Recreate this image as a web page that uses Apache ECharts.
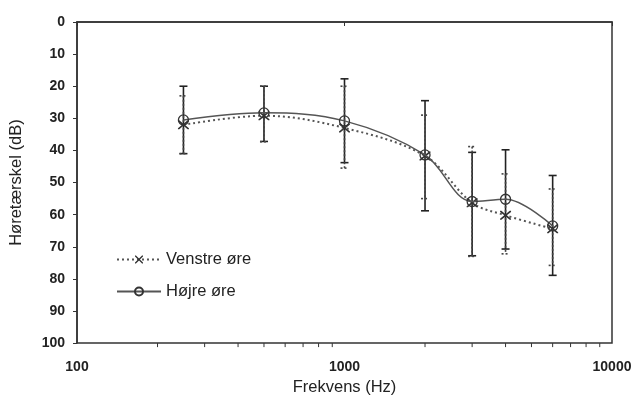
<!DOCTYPE html>
<html>
<head>
<meta charset="UTF-8">
<title>Høretærskel</title>
<script src="https://cdn.jsdelivr.net/npm/echarts@6/dist/echarts.min.js"></script>
<style>
  html, body { margin: 0; padding: 0; background: #fff; }
  #main { width: 637px; height: 401px; }
</style>
</head>
<body>
<div id="main"></div>
<script type="text/javascript">
// frekvenser (Hz)
var freqs = [250, 500, 1000, 2000, 3000, 4000, 6000];
// venstre øre: middel og spredning
var venstre = [32, 29.2, 33, 41.7, 56.3, 60.2, 64.4];
var venstreLow = [23, 20, 20, 29, 38.8, 47.3, 52];
var venstreHigh = [41, 37.3, 45.5, 55, 73, 72.2, 75.8];
// højre øre: middel og spredning
var hojre = [30.5, 28.3, 30.8, 41.4, 55.9, 55.2, 63.5];
var hojreLow = [20, 20, 17.7, 24.5, 40.6, 39.8, 47.8];
var hojreHigh = [41, 37.2, 43.8, 58.8, 72.8, 70.7, 78.9];
// små streger på x-aksen
var minorTicks = [200, 300, 400, 500, 600, 700, 800, 900, 2000, 3000, 4000, 5000, 6000, 7000, 8000, 9000];
var yTicks = [0, 100, 10];

var crossPath = 'path://M0,0L1.2,0L5,3.8L8.8,0L10,0L10,1.2L6.2,5L10,8.8L10,10L8.8,10L5,6.2L1.2,10L0,10L0,8.8L3.8,5L0,1.2Z';

function zip(a, b) {
  return a.map(function (v, i) { return [v, b[i]]; });
}
function barData(lo, hi) {
  return freqs.map(function (f, i) { return [f, lo[i], hi[i]]; });
}

// fejlbjælker
function errorBar(dash, color) {
  return function (params, api) {
    var top = api.coord([api.value(0), api.value(1)]);
    var bot = api.coord([api.value(0), api.value(2)]);
    var w = 4;
    var style = { stroke: color, lineWidth: 1.6, lineDash: dash };
    return {
      type: 'group',
      children: [
        { type: 'line', shape: { x1: top[0], y1: top[1], x2: bot[0], y2: bot[1] }, style: style },
        { type: 'line', shape: { x1: top[0] - w, y1: top[1], x2: top[0] + w, y2: top[1] }, style: style },
        { type: 'line', shape: { x1: bot[0] - w, y1: bot[1], x2: bot[0] + w, y2: bot[1] }, style: style }
      ]
    };
  };
}

var myChart = echarts.init(document.getElementById('main'));
var option = {
  backgroundColor: '#fff',
  animation: false,
  textStyle: { fontFamily: 'Liberation Sans, Arial, sans-serif' },
  grid: {
    left: 76, right: 25, top: 22, bottom: 57,
    show: true, borderColor: '#333', borderWidth: 1.5
  },
  legend: {
    orient: 'vertical',
    left: 111, top: 246,
    itemWidth: 44, itemHeight: 10, itemGap: 15,
    textStyle: { fontSize: 16.5, color: '#222' },
    data: ['Venstre øre', 'Højre øre']
  },
  xAxis: {
    type: 'log',
    min: 100, max: 10000, logBase: 10,
    name: 'Frekvens (Hz)',
    nameLocation: 'middle', nameGap: 29,
    nameTextStyle: { fontSize: 16.5, color: '#222' },
    axisLine: { lineStyle: { color: '#333', width: 1.5 } },
    axisTick: { inside: false, length: 4, lineStyle: { color: '#333' } },
    axisLabel: {
      fontWeight: 'bold', fontSize: 14, color: '#222', margin: 17,
      formatter: function (v) { return String(v); }
    },
    splitLine: { show: false }
  },
  yAxis: {
    type: 'value',
    inverse: true,
    min: yTicks[0], max: yTicks[1], interval: yTicks[2],
    name: 'Høretærskel (dB)',
    nameLocation: 'middle', nameGap: 52,
    nameTextStyle: { fontSize: 16.5, color: '#222' },
    axisLine: { show: true, lineStyle: { color: '#333', width: 1.5 } },
    axisTick: { show: true, length: 4, lineStyle: { color: '#333' } },
    axisLabel: { fontWeight: 'bold', fontSize: 14, color: '#222', margin: 12 },
    splitLine: { show: false }
  },
  series: [
    {
      name: 'minor',
      type: 'custom',
      silent: true,
      data: minorTicks.map(function (v) { return [v, 100]; }),
      renderItem: function (params, api) {
        var p = api.coord([api.value(0), api.value(1)]);
        return { type: 'line', shape: { x1: p[0], y1: p[1], x2: p[0], y2: p[1] + 4 }, style: { stroke: '#333', lineWidth: 1 } };
      },
      z: 1
    },
    {
      name: 'Højre fejl',
      type: 'custom',
      silent: true,
      data: barData(hojreLow, hojreHigh),
      renderItem: errorBar(null, '#222'),
      z: 2
    },
    {
      name: 'Venstre fejl',
      type: 'custom',
      silent: true,
      data: barData(venstreLow, venstreHigh),
      renderItem: errorBar([2, 2], '#444'),
      z: 3
    },
    {
      name: 'Venstre øre',
      type: 'line',
      smooth: 0.35,
      data: zip(freqs, venstre),
      symbol: crossPath,
      symbolSize: [11, 9],
      lineStyle: { color: '#555', width: 2, type: [2, 3] },
      itemStyle: { color: '#333', borderWidth: 0 },
      z: 4
    },
    {
      name: 'Højre øre',
      type: 'line',
      smooth: 0.35,
      data: zip(freqs, hojre),
      symbol: 'circle',
      symbolSize: 10,
      lineStyle: { color: '#555', width: 1.5 },
      itemStyle: { color: 'rgba(255,255,255,0)', borderColor: '#333', borderWidth: 1.3 },
      z: 5
    }
  ]
};
myChart.setOption(option);
</script>
</body>
</html>
